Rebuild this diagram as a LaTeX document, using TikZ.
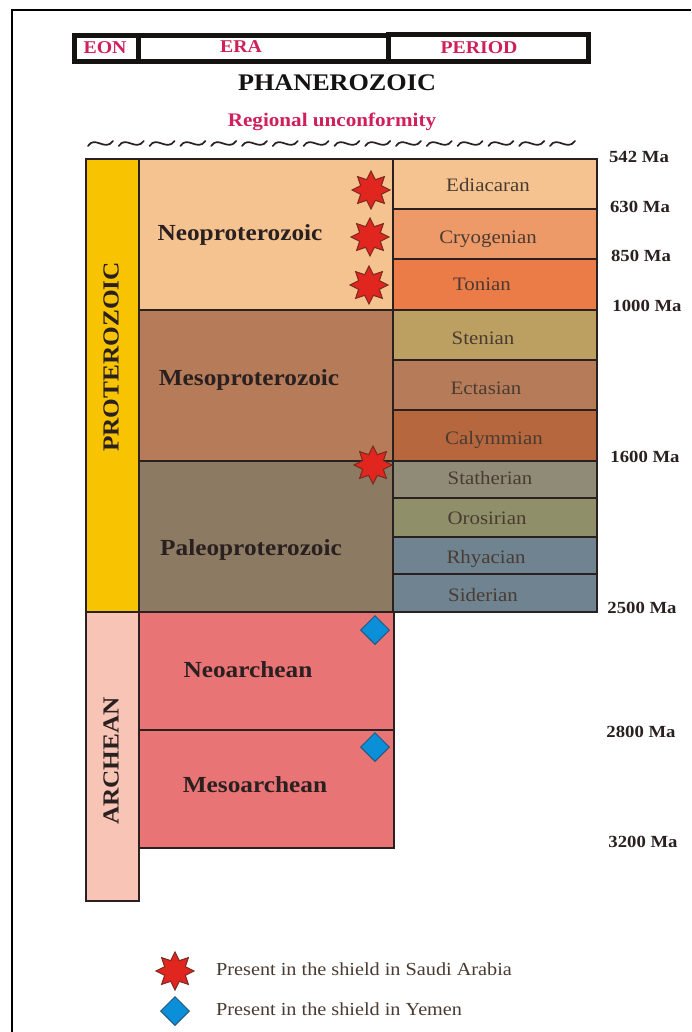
\documentclass[tikz,border=0pt]{standalone}
\usepackage{fontspec}
\setmainfont[FakeStretch=1.1]{Liberation Serif}
\usetikzlibrary{shapes.geometric}
\definecolor{inkdark}{HTML}{2A2020}
\definecolor{inkhead}{HTML}{151212}
\definecolor{inkperiod}{HTML}{4A3B32}
\definecolor{crimson}{HTML}{D0205A}
\definecolor{cNeo}{HTML}{F5C38F}
\definecolor{cCryo}{HTML}{EE9A68}
\definecolor{cTon}{HTML}{EB7B47}
\definecolor{cSten}{HTML}{BCA062}
\definecolor{cMeso}{HTML}{B67C59}
\definecolor{cCaly}{HTML}{B7673E}
\definecolor{cStat}{HTML}{908B77}
\definecolor{cOro}{HTML}{8F9069}
\definecolor{cRhy}{HTML}{6F8490}
\definecolor{cPaleo}{HTML}{8C7A62}
\definecolor{cArch}{HTML}{E87475}
\definecolor{cYellow}{HTML}{F8C300}
\definecolor{cPink}{HTML}{F8C4B6}
\definecolor{cStar}{HTML}{E0261E}
\definecolor{cStarEdge}{HTML}{7A2A20}
\definecolor{cDia}{HTML}{0B8FD8}
\definecolor{cDiaEdge}{HTML}{1F5A80}
\tikzset{
  x=1pt,y=-1pt,
  cell/.style={draw=inkdark,line width=2pt,anchor=north west,inner sep=0pt,outer sep=0pt},
  headcell/.style={draw=inkhead,line width=5pt,fill=white,anchor=north west,inner sep=0pt,outer sep=0pt},
  headtxt/.style={text=crimson,font=\fontsize{18}{20}\selectfont\bfseries,inner sep=0pt},
  erasty/.style={text=inkdark,font=\fontsize{23}{24}\selectfont\bfseries,inner sep=0pt},
  eonsty/.style={text=inkdark,font=\fontsize{23}{25}\selectfont\bfseries,inner sep=0pt,rotate=90},
  persty/.style={text=inkperiod,font=\fontsize{19}{21}\selectfont,inner sep=0pt},
  agesty/.style={text=inkdark,font=\fontsize{17}{19}\selectfont\bfseries,inner sep=0pt},
  legsty/.style={text=inkperiod,font=\fontsize{18.4}{20}\selectfont,inner sep=0pt,anchor=west},
  redstar/.style={star,star points=8,star point ratio=1.7,minimum size=38pt,inner sep=0pt,fill=cStar,draw=cStarEdge,line width=1pt},
  bluedia/.style={diamond,aspect=1,minimum size=29pt,inner sep=0pt,fill=cDia,draw=cDiaEdge,line width=1pt},
}
\begin{document}
\begin{tikzpicture}
\useasboundingbox (0,0) rectangle (691,1032);
\fill[white] (0,0) rectangle (691,1032);
% page frame
\clip (0,0) rectangle (691,1032);
\draw[line width=2pt,black] (12,1032) -- (12,10) -- (691,10);
% header
\node[headcell,minimum width=64pt,minimum height=26pt] (hEon) at (74.5,35.5) {};
\node[headcell,minimum width=250pt,minimum height=26pt] (hEra) at (138.5,35.5) {};
\node[headcell,minimum width=200pt,minimum height=27pt] (hPer) at (388.5,34.5) {};
\node[headtxt] (tEon) at (105,47.5) {EON};
\node[headtxt] (tEra) at (241,46.5) {ERA};
\node[headtxt] (tPer) at (479,47.5) {PERIOD};
\node[text=inkhead,font=\fontsize{23.8}{26}\selectfont\bfseries,inner sep=0pt] (phan) at (337,83) {PHANEROZOIC};
\node[text=crimson,font=\fontsize{19.2}{21}\selectfont\bfseries,inner sep=0pt] (reg) at (332,122) {Regional unconformity};
% unconformity
\foreach \i in {0,...,15}{
  \pgfmathsetmacro\xs{88+30.8*\i}
  \draw[line width=1.7pt,inkdark,line cap=round] (\xs,146) .. controls (\xs+7,135) and (\xs+17,152) .. (\xs+25,141);
}
% eons
\node[cell,fill=cYellow,minimum width=53pt,minimum height=453pt] (proto) at (86,159) {};
\node[cell,fill=cPink,minimum width=53pt,minimum height=289pt] (arch) at (86,612) {};
% eras
\node[cell,fill=cNeo,minimum width=254pt,minimum height=151pt] (eNeo) at (139,159) {};
\node[cell,fill=cMeso,minimum width=254pt,minimum height=151pt] (eMeso) at (139,310) {};
\node[cell,fill=cPaleo,minimum width=254pt,minimum height=151pt] (ePaleo) at (139,461) {};
\node[cell,fill=cArch,minimum width=255pt,minimum height=118pt] (eNA) at (139,612) {};
\node[cell,fill=cArch,minimum width=255pt,minimum height=118pt] (eMA) at (139,730) {};
% periods
\node[cell,fill=cNeo,minimum width=204pt,minimum height=50pt] (p1) at (393,159) {};
\node[cell,fill=cCryo,minimum width=204pt,minimum height=50pt] (p2) at (393,209) {};
\node[cell,fill=cTon,minimum width=204pt,minimum height=51pt] (p3) at (393,259) {};
\node[cell,fill=cSten,minimum width=204pt,minimum height=50pt] (p4) at (393,310) {};
\node[cell,fill=cMeso,minimum width=204pt,minimum height=50pt] (p5) at (393,360) {};
\node[cell,fill=cCaly,minimum width=204pt,minimum height=51pt] (p6) at (393,410) {};
\node[cell,fill=cStat,minimum width=204pt,minimum height=37pt] (p7) at (393,461) {};
\node[cell,fill=cOro,minimum width=204pt,minimum height=39pt] (p8) at (393,498) {};
\node[cell,fill=cRhy,minimum width=204pt,minimum height=37pt] (p9) at (393,537) {};
\node[cell,fill=cRhy,minimum width=204pt,minimum height=38pt] (p10) at (393,574) {};
% eon labels
\node[eonsty] (tProto) at (111,357) {PROTEROZOIC};
\node[eonsty] (tArch) at (111,761) {ARCHEAN};
% era labels
\node[erasty] (tNeo) at (240,235) {Neoproterozoic};
\node[erasty] (tMeso) at (249,380) {Mesoproterozoic};
\node[erasty] (tPaleo) at (251,550) {Paleoproterozoic};
\node[erasty] (tNA) at (248,670) {Neoarchean};
\node[erasty] (tMA) at (255,785) {Mesoarchean};
% period labels
\node[persty] (t1) at (488,185) {Ediacaran};
\node[persty] (t2) at (488,239) {Cryogenian};
\node[persty] (t3) at (482,284) {Tonian};
\node[persty] (t4) at (483,338) {Stenian};
\node[persty] (t5) at (486,388) {Ectasian};
\node[persty] (t6) at (494,440) {Calymmian};
\node[persty] (t7) at (490,478) {Statherian};
\node[persty] (t8) at (487,518) {Orosirian};
\node[persty] (t9) at (486,559) {Rhyacian};
\node[persty] (t10) at (483,595) {Siderian};
% ages
\node[agesty] (a1) at (639,157) {542 Ma};
\node[agesty] (a2) at (640,207) {630 Ma};
\node[agesty] (a3) at (641,256) {850 Ma};
\node[agesty] (a4) at (647,306) {1000 Ma};
\node[agesty] (a5) at (645,457) {1600 Ma};
\node[agesty] (a6) at (642,608) {2500 Ma};
\node[agesty] (a7) at (641,732) {2800 Ma};
\node[agesty] (a8) at (643,842) {3200 Ma};
% markers
\node[redstar] (s1) at (371,190) {};
\node[redstar] (s2) at (370,237) {};
\node[redstar] (s3) at (369,285) {};
\node[redstar] (s4) at (373,465) {};
\node[bluedia] (d1) at (375,630) {};
\node[bluedia] (d2) at (375,747) {};
% legend
\node[redstar] (ls) at (175,971) {};
\node[bluedia] (ld) at (175,1011) {};
\node[legsty] (lt1) at (216,969) {Present in the shield in Saudi Arabia};
\node[legsty] (lt2) at (216,1009) {Present in the shield in Yemen};
\end{tikzpicture}
\end{document}
